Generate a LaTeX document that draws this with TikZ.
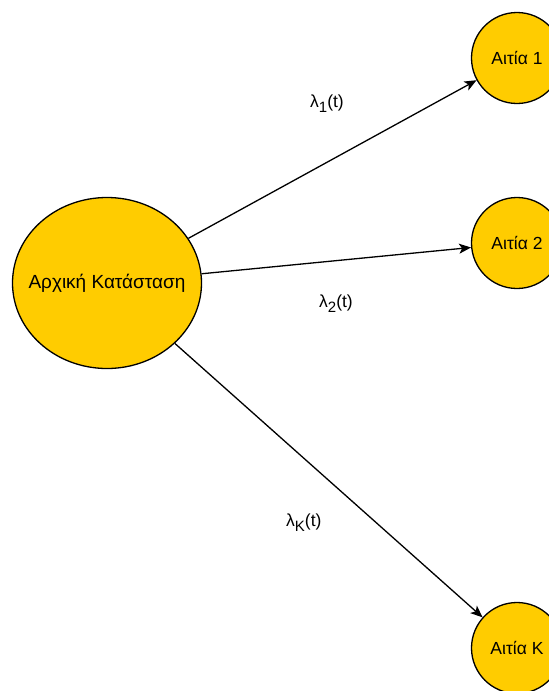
\documentclass[tikz,border=0pt]{standalone}
\usepackage{fontspec}
\setmainfont{Liberation Sans}
\usetikzlibrary{arrows.meta,shapes.geometric}
\definecolor{stategold}{HTML}{FFCC00}
\newcommand{\rate}[1]{λ\raisebox{-0.6ex}{\fontsize{15}{15}\selectfont #1}(t)}
\tikzset{
  statebox/.style={ellipse, draw=black, line width=1.3pt, fill=stategold,
                   minimum width=189pt, minimum height=171pt, inner sep=0pt,
                   label={[font=\fontsize{19}{22}\selectfont]center:#1}},
  causebox/.style={circle, draw=black, line width=1.3pt, fill=stategold,
                   minimum size=91pt, inner sep=0pt,
                   font=\fontsize{17.5}{20}\selectfont},
  arr/.style={-{Stealth[length=12pt,width=10pt,inset=3pt]}, line width=1.3pt},
  ratelabel/.style={anchor=base west, inner sep=0pt, font=\fontsize{17.5}{20}\selectfont}}

\begin{document}
\begin{tikzpicture}[x=1pt, y=-1pt]
    \useasboundingbox (0,0) rectangle (549,691);
    \node[statebox={Αρχική Κατάσταση}] (init) at (107,283) {};
    \node[causebox] (c1) at (517,58) {Αιτία 1};
    \node[causebox] (c2) at (517,243) {Αιτία 2};
    \node[causebox] (ck) at (517,648) {Αιτία K};
    \draw[arr] (init) -- (c1);
    \draw[arr] (init) -- (c2);
    \draw[arr] (init) -- (ck);
    \node[ratelabel] (r1) at (310,107) {\rate{1}};
    \node[ratelabel] (r2) at (319,307) {\rate{2}};
    \node[ratelabel] (rk) at (286,526) {\rate{K}};
\end{tikzpicture}
\end{document}
